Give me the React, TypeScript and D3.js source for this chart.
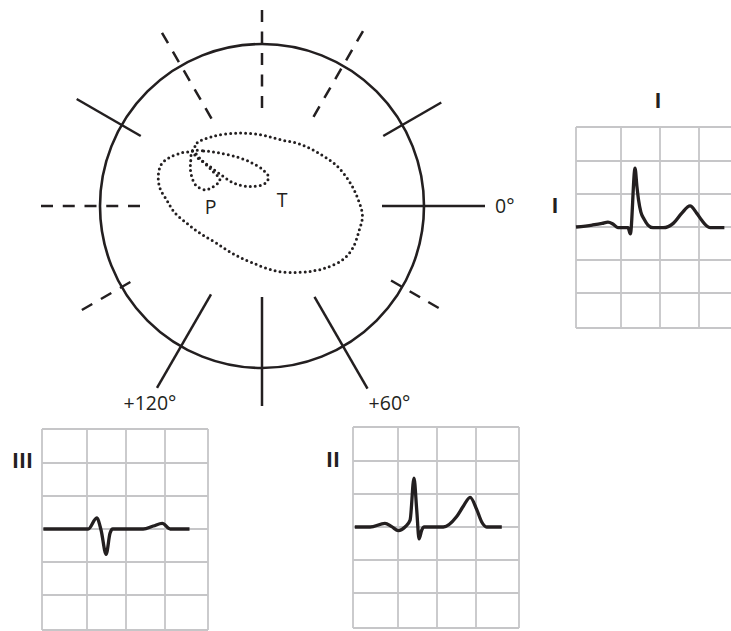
import React from "react";
import * as d3 from "d3";

// hexaxial reference axes (degrees, +90 points down)
const axisAngles = [0, 30, 60, 90, 120, 150, 180, -150, -120, -90, -60, -30];
const axisDashed = [false, true, false, false, false, true, true, false, true, true, true, false];
const degreeLabels = ["0°", "+60°", "+120°"];
const degreeLabelAngles = [0, 60, 120];

// frontal plane vector loops, in units of the circle radius (x right, y down)
const qrsLoop: [number, number][] = [
  [-0.43, -0.34], [-0.4, -0.39], [-0.3, -0.43], [-0.15, -0.45], [-0.01, -0.44],
  [0.11, -0.41], [0.24, -0.38], [0.36, -0.32], [0.46, -0.25], [0.54, -0.15],
  [0.59, -0.05], [0.62, 0.06], [0.6, 0.15], [0.56, 0.26], [0.5, 0.33],
  [0.4, 0.38], [0.32, 0.4], [0.22, 0.41], [0.08, 0.4], [-0.06, 0.35],
  [-0.17, 0.3], [-0.28, 0.23], [-0.38, 0.17], [-0.46, 0.11], [-0.54, 0.04],
  [-0.59, -0.04], [-0.63, -0.11], [-0.64, -0.19], [-0.62, -0.26], [-0.57, -0.3],
  [-0.49, -0.33],
];
const tLoop: [number, number][] = [
  [-0.43, -0.34], [-0.36, -0.34], [-0.28, -0.33], [-0.18, -0.31], [-0.07, -0.27],
  [0.01, -0.22], [0.04, -0.18], [0.02, -0.14], [-0.07, -0.12], [-0.17, -0.14],
  [-0.25, -0.19], [-0.33, -0.25], [-0.4, -0.3],
];
const pLoop: [number, number][] = [
  [-0.43, -0.34], [-0.44, -0.28], [-0.44, -0.21], [-0.41, -0.13], [-0.35, -0.1],
  [-0.3, -0.12], [-0.26, -0.16], [-0.31, -0.22], [-0.38, -0.29],
];
const loopNames = ["P", "T"];

// ECG strips: time and amplitude in big boxes
const gridTimes = [0, 1, 2, 3, 4];
const gridLevels = [3, 2, 1, 0, -1, -2, -3];
const leadNames = ["I", "II", "III"];

const leadITime = [0, 0.36, 0.58, 0.71, 0.82, 0.93, 1.18, 1.24, 1.36, 1.41, 1.45, 1.51, 1.59, 1.69, 1.82, 2.08, 2.34, 2.56, 2.77, 2.94, 3.06, 3.18, 3.26, 3.59];
const leadIAmp = [0, 0.06, 0.11, 0.15, 0.09, -0.02, -0.02, -0.21, 1.78, 1.21, 0.82, 0.45, 0.24, 0.06, -0.02, -0.02, 0.11, 0.42, 0.64, 0.42, 0.21, 0.03, -0.02, -0.02];

const leadIITime = [0.04, 0.38, 0.71, 0.86, 1.01, 1.18, 1.31, 1.41, 1.48, 1.54, 1.61, 1.67, 2.16, 2.5, 2.67, 2.85, 3.02, 3.13, 3.25, 3.6];
const leadIIAmp = [0, 0, 0.11, 0.01, -0.11, 0, 0.21, 1.48, 0.52, -0.36, -0.09, 0, 0, 0.31, 0.62, 0.9, 0.52, 0.16, 0, 0];

const leadIIITime = [0.03, 1.03, 1.25, 1.36, 1.49, 1.59, 1.66, 2.44, 2.7, 2.93, 3.12, 3.57];
const leadIIIAmp = [0, 0, 0.34, -0.03, -0.77, -0.13, 0, 0, 0.09, 0.17, 0, 0];

// layout
const W = 731;
const H = 631;
const CX = 262;
const CY = 206;
const R = 162;
const INK = "#231f20";
const FONT = "'Open Sans', 'Liberation Sans', sans-serif";

const spokeReach: Record<number, [number, number]> = {
  0: [120, 223], 30: [149, 204], 60: [105, 211], 90: [91, 200], 120: [102, 210],
  150: [152, 208], 180: [122, 221], [-150]: [140, 214], [-120]: [101, 200],
  [-90]: [98, 196], [-60]: [103, 202], [-30]: [140, 207],
};
const degreeLabelOffset: Record<number, [number, number, string]> = {
  0: [10, 7, "start"],
  60: [22, 21, "middle"],
  120: [-7, 22, "middle"],
};
const loopLabelPos = [
  [210.5, 214],
  [282, 207],
];

const panels = [
  { x: 576, y: 127, time: leadITime, amp: leadIAmp, labels: [[82, -19], [-21, 86]] },
  { x: 353, y: 427, time: leadIITime, amp: leadIIAmp, labels: [[-20, 40]] },
  { x: 42, y: 429, time: leadIIITime, amp: leadIIIAmp, labels: [[-19.5, 39]] },
];

const px = d3.scaleLinear().domain([-1, 1]).range([CX - R, CX + R]);
const py = d3.scaleLinear().domain([-1, 1]).range([CY - R, CY + R]);

const gx = d3.scaleLinear().domain(gridTimes).range([0, 45, 84, 123, 166]);
const gy = d3.scaleLinear().domain(gridLevels).range([0, 34, 67, 100, 133, 166, 201]);

function polar(angle: number, r: number): [number, number] {
  const a = (angle * Math.PI) / 180;
  return [CX + r * Math.cos(a), CY + r * Math.sin(a)];
}

function dashFor(len: number) {
  const n = Math.max(2, Math.round((len + 8) / 20));
  const dash = 12;
  const gap = (len - n * dash) / (n - 1);
  return `${dash} ${gap}`;
}

const loopLine = d3
  .line<[number, number]>()
  .x((d) => px(d[0]))
  .y((d) => py(d[1]))
  .curve(d3.curveCatmullRomClosed.alpha(0.5));

const traceLine = d3
  .line<[number, number]>()
  .x((d) => gx(d[0]))
  .y((d) => gy(d[1]))
  .curve(d3.curveMonotoneX);

const App: React.FC = () => {
  return (
    <svg
      width={W}
      height={H}
      style={{ position: "absolute", left: 0, top: 0, background: "#fff" }}
      fontFamily={FONT}
    >
      <rect width={W} height={H} fill="#fff" />

      {/* spokes */}
      {axisAngles.map((ang, i) => {
        const [r0, r1] = spokeReach[ang];
        const [x1, y1] = polar(ang, r1);
        const [x2, y2] = polar(ang, r0);
        return (
          <line
            key={ang}
            x1={x1}
            y1={y1}
            x2={x2}
            y2={y2}
            stroke={INK}
            strokeWidth={2.5}
            strokeDasharray={axisDashed[i] ? dashFor(r1 - r0) : undefined}
          />
        );
      })}

      <circle cx={CX} cy={CY} r={R} fill="none" stroke={INK} strokeWidth={2.6} />

      {degreeLabels.map((lab, i) => {
        const ang = degreeLabelAngles[i];
        const [ex, ey] = polar(ang, spokeReach[ang][1]);
        const [dx, dy, anchor] = degreeLabelOffset[ang];
        return (
          <text key={lab} x={ex + dx} y={ey + dy} fontSize={19.5} fill={INK} textAnchor={anchor}>
            {lab}
          </text>
        );
      })}

      {/* vector loops */}
      {[qrsLoop, tLoop, pLoop].map((loop, i) => (
        <path
          key={i}
          d={loopLine(loop) ?? ""}
          fill="none"
          stroke={INK}
          strokeWidth={3}
          strokeLinecap="round"
          strokeDasharray="0 5"
        />
      ))}
      {loopNames.map((name, i) => (
        <text
          key={name}
          x={loopLabelPos[i][0]}
          y={loopLabelPos[i][1]}
          fontSize={19.5}
          fill={INK}
          textAnchor="middle"
        >
          {name}
        </text>
      ))}

      {/* ECG strips */}
      {panels.map((p, k) => {
        const pts = p.time.map((t, i) => [t, p.amp[i]] as [number, number]);
        return (
          <g key={k} transform={`translate(${p.x},${p.y})`}>
            {gridTimes.map((t) => (
              <line key={"v" + t} x1={gx(t)} x2={gx(t)} y1={0} y2={gy(-3)} stroke="#c6c6c8" strokeWidth={1.8} />
            ))}
            {gridLevels.map((l) => (
              <line key={"h" + l} x1={0} x2={gx(4)} y1={gy(l)} y2={gy(l)} stroke="#c6c6c8" strokeWidth={1.8} />
            ))}
            <path
              d={traceLine(pts) ?? ""}
              fill="none"
              stroke={INK}
              strokeWidth={3.3}
              strokeLinejoin="round"
            />
            {p.labels.map(([lx, ly], j) => (
              <text
                key={j}
                x={lx}
                y={ly}
                fontSize={21}
                fontWeight="bold"
                fill={INK}
                textAnchor="middle"
              >
                {leadNames[k]}
              </text>
            ))}
          </g>
        );
      })}
    </svg>
  );
};

export default App;
